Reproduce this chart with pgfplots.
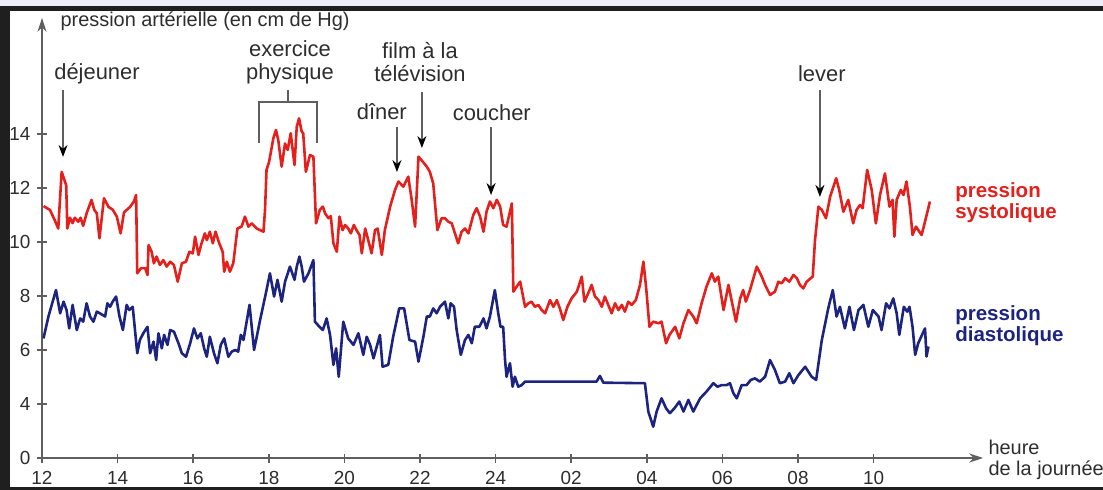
\documentclass[border=0pt]{standalone}
\usepackage{pgfplots}
\pgfplotsset{compat=1.18}
\usepackage{pgfplotstable}
\usetikzlibrary{arrows.meta}
\usepackage{fontspec}
\setmainfont{Liberation Sans}

\definecolor{sys}{RGB}{228,32,28}
\definecolor{dia}{RGB}{28,36,128}
\definecolor{annot}{RGB}{45,45,45}
\definecolor{axgray}{RGB}{95,95,95}
\definecolor{band}{RGB}{238,238,250}

% x = heures depuis 12 h, y = pression (la graduation "0" est placee a y=2)
\pgfplotstableread{
h v
0.04 11.33
0.21 11.19
0.34 10.80
0.43 10.50
0.52 12.60
0.64 12.10
0.67 10.50
0.74 10.90
0.81 10.70
0.87 10.90
0.96 10.75
1.02 10.90
1.09 10.60
1.18 11.06
1.31 11.56
1.38 11.20
1.45 11.06
1.52 10.14
1.64 11.62
1.76 11.30
1.87 11.20
1.98 10.94
2.08 10.32
2.17 11.10
2.33 11.30
2.43 11.50
2.49 11.74
2.52 8.84
2.62 9.03
2.73 9.03
2.79 8.78
2.82 9.89
2.90 9.64
2.96 9.21
3.03 9.46
3.12 9.15
3.21 9.33
3.30 9.09
3.39 9.27
3.49 9.15
3.59 8.53
3.70 9.21
3.81 9.27
3.90 9.64
3.99 9.58
4.05 10.20
4.14 9.52
4.22 9.95
4.31 10.32
4.36 10.07
4.44 10.38
4.52 9.95
4.59 10.38
4.69 9.95
4.78 9.64
4.82 8.90
4.89 9.27
4.97 8.90
5.06 9.21
5.17 10.50
5.28 10.57
5.37 10.94
5.46 10.57
5.55 10.69
5.68 10.50
5.86 10.38
5.90 11.19
5.94 12.67
6.01 12.98
6.12 13.84
6.19 14.15
6.25 13.78
6.34 12.79
6.43 13.65
6.50 13.41
6.58 14.03
6.68 12.85
6.74 14.27
6.80 14.58
6.87 14.09
6.91 14.03
6.98 12.60
7.09 13.22
7.18 13.16
7.25 10.69
7.35 11.19
7.43 11.31
7.49 11.06
7.58 10.88
7.64 10.96
7.71 9.95
7.80 9.64
7.87 10.94
7.95 10.44
8.02 10.63
8.10 10.50
8.17 10.32
8.25 10.63
8.32 10.44
8.40 10.26
8.46 9.58
8.55 10.50
8.63 10.07
8.72 9.58
8.81 10.44
8.88 10.50
8.99 9.52
9.07 10.44
9.21 11.31
9.34 11.93
9.43 12.24
9.56 12.05
9.69 12.42
9.78 11.56
9.87 10.57
9.96 13.16
10.07 12.98
10.18 12.79
10.26 12.60
10.35 12.17
10.46 10.44
10.57 10.88
10.66 10.88
10.75 10.75
10.84 10.69
11.01 9.95
11.10 10.38
11.19 10.50
11.28 10.32
11.41 11.00
11.50 11.25
11.59 10.94
11.68 10.38
11.76 11.12
11.85 11.50
11.94 11.25
12.03 11.56
12.12 11.31
12.20 10.63
12.29 10.57
12.43 11.43
12.47 8.16
12.56 8.35
12.65 8.53
12.78 7.60
12.87 7.73
12.95 7.79
13.04 7.60
13.13 7.67
13.22 7.48
13.31 7.36
13.44 7.85
13.53 7.60
13.62 7.85
13.70 7.54
13.79 7.11
13.90 7.60
14.01 7.91
14.15 8.16
14.28 8.72
14.35 7.79
14.45 8.10
14.54 8.41
14.63 7.98
14.72 7.85
14.81 7.60
14.89 7.98
14.98 7.67
15.07 7.36
15.16 7.73
15.25 7.48
15.34 7.67
15.42 7.42
15.51 7.79
15.60 7.67
15.71 7.85
15.82 8.41
15.91 9.27
15.98 8.35
16.07 6.86
16.17 7.05
16.31 6.99
16.39 7.05
16.51 6.25
16.60 6.56
16.75 6.86
16.86 6.43
16.97 6.99
17.10 7.48
17.23 7.24
17.32 6.99
17.45 7.73
17.58 8.35
17.72 8.84
17.80 8.53
17.89 8.72
18.03 7.48
18.16 8.41
18.25 7.79
18.36 7.05
18.47 7.91
18.55 8.22
18.62 7.79
18.73 8.22
18.91 9.09
19.04 8.72
19.13 8.41
19.26 8.04
19.39 8.16
19.48 8.53
19.57 8.47
19.66 8.66
19.77 8.53
19.88 8.78
19.97 8.66
20.05 8.41
20.14 8.28
20.23 8.53
20.39 8.72
20.45 10.07
20.54 11.31
20.63 11.19
20.74 10.88
20.85 11.68
21.01 12.36
21.09 11.93
21.20 11.12
21.33 11.56
21.46 10.69
21.55 11.19
21.64 11.37
21.71 11.25
21.83 12.67
21.95 11.93
22.06 10.69
22.17 11.74
22.30 12.54
22.42 11.31
22.50 11.56
22.55 10.20
22.61 11.56
22.72 11.93
22.79 11.74
22.87 12.24
22.96 11.31
23.03 10.26
23.12 10.57
23.21 10.38
23.27 10.26
23.36 10.75
23.49 11.50
}\systolique

\pgfplotstableread{
h v
0.04 6.43
0.17 7.24
0.37 8.22
0.48 7.36
0.57 7.79
0.65 7.48
0.72 6.80
0.81 7.67
0.92 6.74
1.01 7.17
1.09 7.05
1.18 7.73
1.27 7.24
1.36 7.05
1.45 7.42
1.53 7.36
1.67 7.24
1.73 7.73
1.80 7.60
1.87 7.79
1.96 7.98
2.05 7.24
2.14 6.74
2.24 7.67
2.31 7.48
2.40 7.60
2.52 5.88
2.59 6.37
2.68 6.62
2.79 6.86
2.86 5.88
2.95 6.31
3.02 5.63
3.08 6.62
3.17 6.06
3.23 6.56
3.32 6.19
3.39 6.74
3.49 6.68
3.61 6.25
3.70 5.88
3.81 5.75
3.92 6.25
4.02 6.80
4.11 6.43
4.20 6.62
4.29 6.06
4.36 5.75
4.44 6.49
4.55 5.88
4.64 5.51
4.73 6.19
4.82 6.43
4.93 5.75
5.02 5.94
5.11 6.00
5.19 5.94
5.26 6.56
5.33 6.37
5.49 7.67
5.61 6.00
5.77 7.11
5.94 8.22
6.03 8.84
6.14 7.98
6.23 8.60
6.34 7.79
6.43 8.53
6.56 9.09
6.68 8.60
6.74 9.09
6.81 9.46
6.87 9.09
6.93 8.53
7.05 8.84
7.18 9.33
7.22 7.05
7.34 6.86
7.43 6.74
7.53 7.17
7.62 6.56
7.71 5.45
7.78 6.06
7.85 5.01
7.97 7.05
8.10 6.43
8.24 6.19
8.37 6.62
8.50 5.82
8.59 6.49
8.68 6.19
8.77 5.69
8.94 6.56
9.01 5.38
9.16 5.45
9.29 6.49
9.45 7.54
9.58 7.54
9.72 6.37
9.87 6.31
9.96 5.57
10.09 6.49
10.18 7.24
10.26 7.24
10.35 7.54
10.44 7.36
10.53 7.60
10.66 7.79
10.75 7.17
10.81 7.73
10.90 7.60
10.97 6.74
11.08 5.82
11.19 6.37
11.28 6.56
11.37 6.25
11.45 6.86
11.57 6.86
11.68 7.17
11.76 6.80
11.85 7.24
11.98 8.22
12.07 7.36
12.13 6.86
12.20 6.86
12.25 5.63
12.29 5.01
12.38 5.51
12.45 4.64
12.51 5.01
12.60 4.64
12.69 4.70
12.78 4.83
14.67 4.83
14.76 5.04
14.85 4.79
15.95 4.77
16.04 3.72
16.17 3.16
16.26 3.72
16.39 4.21
16.51 3.84
16.61 3.66
16.73 3.84
16.86 4.09
16.97 3.72
17.10 4.15
17.23 3.72
17.41 4.21
17.58 4.46
17.76 4.77
17.87 4.64
17.98 4.70
18.11 4.70
18.20 4.77
18.29 4.40
18.38 4.21
18.51 4.70
18.64 4.70
18.75 4.89
18.86 4.95
18.99 4.83
19.13 5.01
19.26 5.63
19.39 5.26
19.52 4.77
19.66 4.83
19.77 5.14
19.88 4.77
20.01 5.07
20.19 5.38
20.36 5.01
20.48 4.89
20.63 6.37
20.80 7.54
20.92 8.22
21.02 7.24
21.11 7.60
21.24 6.80
21.36 7.60
21.48 6.74
21.60 7.48
21.73 7.67
21.86 6.86
21.98 7.48
22.13 7.24
22.21 6.74
22.33 7.73
22.42 7.54
22.52 7.91
22.61 7.36
22.68 6.56
22.80 7.60
22.89 7.42
22.95 7.60
23.03 6.86
23.10 5.82
23.18 6.25
23.30 6.62
23.36 6.80
23.40 5.76
23.45 6.13
}\diastolique

\begin{document}
\begin{tikzpicture}
\useasboundingbox (-21bp,-16bp) rectangle (530.5bp,229bp);
\clip (-21bp,-16bp) rectangle (530.5bp,229bp);
% cadre de l'image d'origine
\fill[band] (-21bp,226bp) rectangle (530.5bp,229bp);
\fill[black!88] (-21bp,223.5bp) rectangle (530.5bp,226bp);
\fill[black!88] (-21bp,-16bp) rectangle (-16bp,226bp);
\fill[black!88] (-21bp,-16bp) rectangle (530.5bp,-14.5bp);

\begin{axis}[
  x=18.9bp, y=13.5bp,
  xmin=0, xmax=24.9,
  ymin=2, ymax=18.3,
  axis lines=left,
  clip=false,
  axis line style={axgray, line width=0.8bp, -{Stealth[length=7bp,width=4.5bp]}},
  tick style={axgray, line width=0.8bp},
  tick align=center,
  major tick length=4.5bp,
  xtick={0,2,...,22},
  xticklabels={12,14,16,18,20,22,24,02,04,06,08,10},
  ytick={2,4,6,8,10,12,14},
  yticklabels={0,4,6,8,10,12,14},
  ticklabel style={font=\fontsize{9.5}{11}\selectfont, text=annot},
  xticklabel style={yshift=-1bp},
]
\addplot[sys, line width=1.3bp, line join=round] table[x=h, y=v] {\systolique};
\addplot[dia, line width=1.3bp, line join=round] table[x=h, y=v] {\diastolique};

\tikzset{ann/.style={font=\fontsize{11}{11.5}\selectfont, text=annot, align=center, inner sep=0pt},
         fl/.style={axgray, line width=0.75bp, -{Stealth[length=6bp,width=4.5bp,color=black]}}}

\node[anchor=base west, font=\fontsize{10}{11}\selectfont, text=annot, inner sep=0pt]
  at (axis cs:0.48,17.98) {pression artérielle (en cm de Hg)};

\node[ann] at (axis cs:1.455,16.22) {déjeuner};
\draw[fl] (axis cs:0.556,15.63) -- (axis cs:0.556,13.15);

\node[ann] at (axis cs:6.56,16.67) {exercice\\physique};
\draw[axgray, line width=0.75bp] (axis cs:6.51,15.63) -- (axis cs:6.51,15.19);
\draw[axgray, line width=0.75bp] (axis cs:5.74,13.67) -- (axis cs:5.74,15.19)
   -- (axis cs:7.28,15.19) -- (axis cs:7.28,13.67);

\node[ann] at (axis cs:10.0,16.67) {film à la\\télévision};
\draw[fl] (axis cs:10.05,15.56) -- (axis cs:10.05,13.48);

\node[ann] at (axis cs:8.99,14.81) {dîner};
\draw[fl] (axis cs:9.39,14.26) -- (axis cs:9.39,12.59);

\node[ann] at (axis cs:11.90,14.78) {coucher};
\draw[fl] (axis cs:11.88,14.26) -- (axis cs:11.88,11.74);

\node[ann] at (axis cs:20.63,16.22) {lever};
\draw[fl] (axis cs:20.58,15.63) -- (axis cs:20.58,11.67);

\node[anchor=west, align=left, inner sep=0pt, text=sys,
      font=\fontsize{10.3}{10.6}\selectfont\bfseries]
  at (axis cs:24.15,11.44) {pression\\systolique};
\node[anchor=west, align=left, inner sep=0pt, text=dia,
      font=\fontsize{10.3}{10.6}\selectfont\bfseries]
  at (axis cs:24.15,6.89) {pression\\diastolique};

\node[anchor=west, align=left, inner sep=0pt, text=annot,
      font=\fontsize{10}{10.5}\selectfont]
  at (axis cs:25.03,1.93) {heure\\de la journée};
\end{axis}
\end{tikzpicture}
\end{document}
